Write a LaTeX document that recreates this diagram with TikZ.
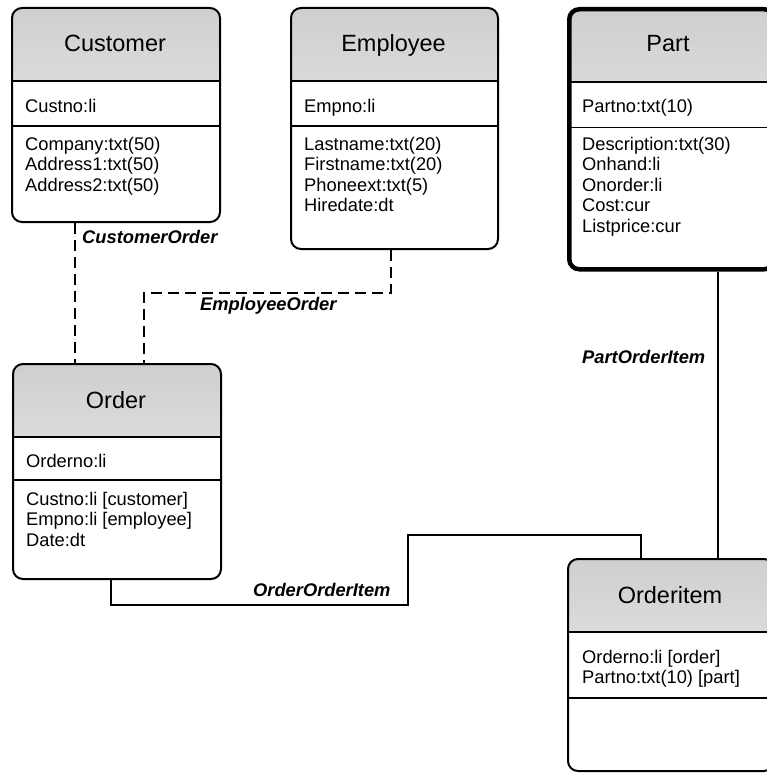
\documentclass[tikz,border=0pt]{standalone}
\usepackage{fontspec}
\setmainfont{Liberation Sans}
\definecolor{hdrtop}{gray}{0.74}
\definecolor{hdrbot}{gray}{0.99}
\pgfdeclareverticalshading{hdrshade}{100bp}{color(0bp)=(hdrbot); color(12bp)=(hdrbot); color(100bp)=(hdrtop)}
\tikzset{
  entity/.style={draw, line width=2pt, rounded corners=10pt, inner sep=0pt, anchor=north west,
    path picture={
      \shade[sharp corners, shading=hdrshade]
        (path picture bounding box.north west) rectangle ([yshift=-73pt]path picture bounding box.north east);
      \draw[sharp corners, line width=2pt]
        ([yshift=-73pt]path picture bounding box.north west) -- ([yshift=-73pt]path picture bounding box.north east);
      \draw[sharp corners, line width=1.1pt]
        ([yshift=-#1pt]path picture bounding box.north west) -- ([yshift=-#1pt]path picture bounding box.north east);
    }},
  etitle/.style={anchor=base, inner sep=0pt, font=\fontsize{23.5}{28}\selectfont},
  attr/.style={anchor=base west, inner sep=0pt, font=\fontsize{18.3}{20.5}\selectfont},
  rlabel/.style={anchor=base west, inner sep=0pt, font=\fontsize{18.3}{20}\selectfont\bfseries\itshape},
  dashconn/.style={line width=2.3pt, dash pattern=on 11pt off 6pt},
  solidconn/.style={line width=2pt},
}
\newcommand\attrlist[4]{\foreach \t [count=\i] in {#4} {\node[attr] (#1-\i) at (#2,{#3+20.5*(\i-1)}) {\t};}}
\begin{document}
\begin{tikzpicture}[x=1pt,y=-1pt]
\useasboundingbox (0,0) rectangle (767,773);

% entities
\node[entity=118, minimum width=208pt, minimum height=214pt] (cust) at (11,7) {};
\node[entity=118, minimum width=207pt, minimum height=241pt] (emp) at (290,7) {};
\node[entity=118, line width=4.5pt, minimum width=205pt, minimum height=260pt] (part) at (567,7) {};
\node[entity=116, minimum width=208pt, minimum height=215pt] (ord) at (12,363) {};
\node[entity=139, minimum width=206pt, minimum height=212pt] (oi) at (567,558) {};

% Customer
\node[etitle] (cust-t) at (115,52) {Customer};
\node[attr] (cust-k) at (25,112.5) {Custno:li};
\attrlist{cust-a}{25}{150}{Company:txt(50),Address1:txt(50),Address2:txt(50)}

% Employee
\node[etitle] (emp-t) at (393.5,52) {Employee};
\node[attr] (emp-k) at (304,112.5) {Empno:li};
\attrlist{emp-a}{304}{150}{Lastname:txt(20),Firstname:txt(20),Phoneext:txt(5),Hiredate:dt}

% Part
\node[etitle] (part-t) at (668,52) {Part};
\node[attr] (part-k) at (582,112.5) {Partno:txt(10)};
\attrlist{part-a}{582}{150}{Description:txt(30),Onhand:li,Onorder:li,Cost:cur,Listprice:cur}

% Order
\node[etitle] (ord-t) at (116,408) {Order};
\node[attr] (ord-k) at (26,467) {Orderno:li};
\attrlist{ord-a}{26}{505}{Custno:li [customer],Empno:li [employee],Date:dt}

% Orderitem
\node[etitle] (oi-t) at (670,603) {Orderitem};
\attrlist{oi-k}{582}{663}{Orderno:li [order],Partno:txt(10) [part]}

% connector routing points
\coordinate (co) at (75,0);
\coordinate (eo1) at (391,0);
\coordinate (eo2) at (144,293);
\coordinate (po) at (718,0);
\coordinate (c1) at (111,605);
\coordinate (c2) at (408,605);
\coordinate (c3) at (408,535);
\coordinate (c4) at (641,535);

% connectors
\draw[dashconn] (cust.south -| co) -- (ord.north -| co);
\draw[dashconn] (emp.south -| eo1) |- (eo2) -- (ord.north -| eo2);
\draw[solidconn] (part.south -| po) -- (oi.north -| po);
\draw[solidconn] (ord.south -| c1) -- (c1) -- (c2) -- (c3) -- (c4) -- (oi.north -| c4);

% labels
\node[rlabel] (l-co) at (82,243) {CustomerOrder};
\node[rlabel] (l-eo) at (200,310) {EmployeeOrder};
\node[rlabel] (l-po) at (582,363) {PartOrderItem};
\node[rlabel] (l-oo) at (253,596) {OrderOrderItem};
\end{tikzpicture}
\end{document}
